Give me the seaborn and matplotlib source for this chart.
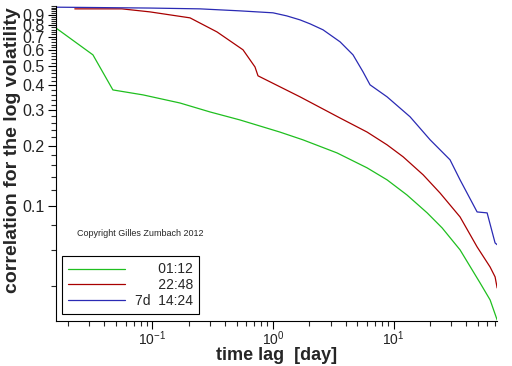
import seaborn as sns
import pandas as pd
import matplotlib.pyplot as plt
import numpy as np
from matplotlib.ticker import FixedLocator, FixedFormatter, LogLocator, NullFormatter

# values (time lag in days, correlation)
lag_short = [0.0158, 0.0321, 0.047, 0.0834, 0.169, 0.300, 0.532, 1.14, 1.77, 3.40,
             6.03, 8.83, 12.9, 19.0, 25.3, 35.6, 52.2, 63.2, 72.3]
corr_short = [0.776, 0.569, 0.380, 0.359, 0.327, 0.295, 0.269, 0.234, 0.214, 0.184,
              0.155, 0.135, 0.1135, 0.0923, 0.0776, 0.0603, 0.0412, 0.0339, 0.0269]

lag_mid = [0.0227, 0.0558, 0.0953, 0.205, 0.343, 0.564, 0.709, 0.751, 1.675, 3.60,
           6.03, 8.83, 12.0, 17.6, 24.3, 35.6, 49.3, 63.2, 69.5, 72.3]
corr_mid = [0.966, 0.966, 0.933, 0.871, 0.741, 0.603, 0.495, 0.447, 0.351, 0.275,
            0.234, 0.202, 0.176, 0.143, 0.116, 0.0881, 0.0624, 0.0495, 0.0442, 0.0389]

lag_long = [0.0158, 0.0953, 0.248, 0.532, 1.0, 1.3, 1.675, 2.03, 2.60, 3.60, 4.61,
            5.58, 6.38, 8.83, 13.7, 20.1, 29.4, 35.6, 49.3, 59.7, 69.5, 72.3]
corr_long = [0.985, 0.975, 0.966, 0.944, 0.923, 0.891, 0.851, 0.813, 0.759, 0.661, 0.569,
             0.468, 0.403, 0.351, 0.279, 0.214, 0.170, 0.135, 0.0933, 0.0923, 0.0653, 0.0640]

series_names = ["      01:12", "      22:48", "7d  14:24"]
colors = ["#1fbf1f", "#a80000", "#2a2ab4"]

df = pd.concat([
    pd.DataFrame({"lag": lag_short, "corr": corr_short, "series": series_names[0]}),
    pd.DataFrame({"lag": lag_mid, "corr": corr_mid, "series": series_names[1]}),
    pd.DataFrame({"lag": lag_long, "corr": corr_long, "series": series_names[2]}),
])

sns.set_style("ticks")
plt.rcParams['font.family'] = ['Liberation Sans', 'DejaVu Sans']
plt.rcParams['mathtext.fontset'] = 'custom'
plt.rcParams['mathtext.rm'] = 'Liberation Sans'

fig = plt.figure(figsize=(5.12, 3.66), dpi=100)
ax = fig.add_axes([0.109, 0.123, 0.862, 0.861])

sns.lineplot(data=df, x="lag", y="corr", hue="series", palette=colors,
             estimator=None, sort=True, linewidth=0.9, ax=ax)

ax.set_xscale("log")
ax.set_yscale("log")
ax.set_xlim(0.0158, 72.3)
ax.set_ylim(0.0266, 1.0)

# y ticks: labelled 0.1 .. 0.9, many small ticks in between
ylab = [0.1, 0.2, 0.3, 0.4, 0.5, 0.6, 0.7, 0.8, 0.9]
yminor = [0.04, 0.06, 0.08, 0.12, 0.14, 0.16, 0.18, 0.22, 0.24, 0.26, 0.28,
          0.32, 0.34, 0.36, 0.38, 0.42, 0.44, 0.46, 0.48, 0.52, 0.54, 0.56, 0.58,
          0.62, 0.64, 0.66, 0.68, 0.72, 0.74, 0.76, 0.78, 0.82, 0.84, 0.86, 0.88,
          0.92, 0.94, 0.96, 0.98, 1.0]
ax.yaxis.set_major_locator(FixedLocator(ylab))
ax.yaxis.set_major_formatter(FixedFormatter([str(v) for v in ylab]))
ax.yaxis.set_minor_locator(FixedLocator(yminor))
ax.yaxis.set_minor_formatter(NullFormatter())

ax.xaxis.set_major_locator(FixedLocator([0.1, 1, 10]))
ax.xaxis.set_major_formatter(FixedFormatter([r"$10^{-1}$", r"$10^{0}$", r"$10^{1}$"]))
ax.xaxis.set_minor_locator(LogLocator(base=10, subs=np.arange(2, 10)))
ax.xaxis.set_minor_formatter(NullFormatter())

ax.tick_params(axis="both", which="major", direction="out", length=6, width=0.8,
               colors="black", pad=2)
ax.tick_params(axis="y", which="major", labelsize=11.5, labelcolor="#222222")
ax.tick_params(axis="x", which="major", labelsize=10, labelcolor="#222222", pad=0)
ax.tick_params(axis="both", which="minor", direction="out", length=3.5, width=0.8)

sns.despine(ax=ax)
ax.spines["left"].set_color("black")
ax.spines["bottom"].set_color("black")

ax.set_xlabel("time lag  [day]", fontsize=13, fontweight="bold")
ax.set_ylabel("correlation for the log volatility", fontsize=14, fontweight="bold")
ax.xaxis.set_label_coords(0.5, -0.083)
ax.yaxis.set_label_coords(-0.078, 0.543)

ax.text(0.048, 0.27, "Copyright Gilles Zumbach 2012", transform=ax.transAxes, fontsize=6.5)

leg = ax.legend(loc="lower left", bbox_to_anchor=(0.0136, 0.022), fontsize=10,
                frameon=True, fancybox=False, edgecolor="black", framealpha=1,
                handlelength=4.1, handletextpad=0.7, borderpad=0.45,
                labelspacing=0.12, borderaxespad=0)
leg.get_frame().set_linewidth(0.8)

fig.savefig("out.png", dpi=100)
